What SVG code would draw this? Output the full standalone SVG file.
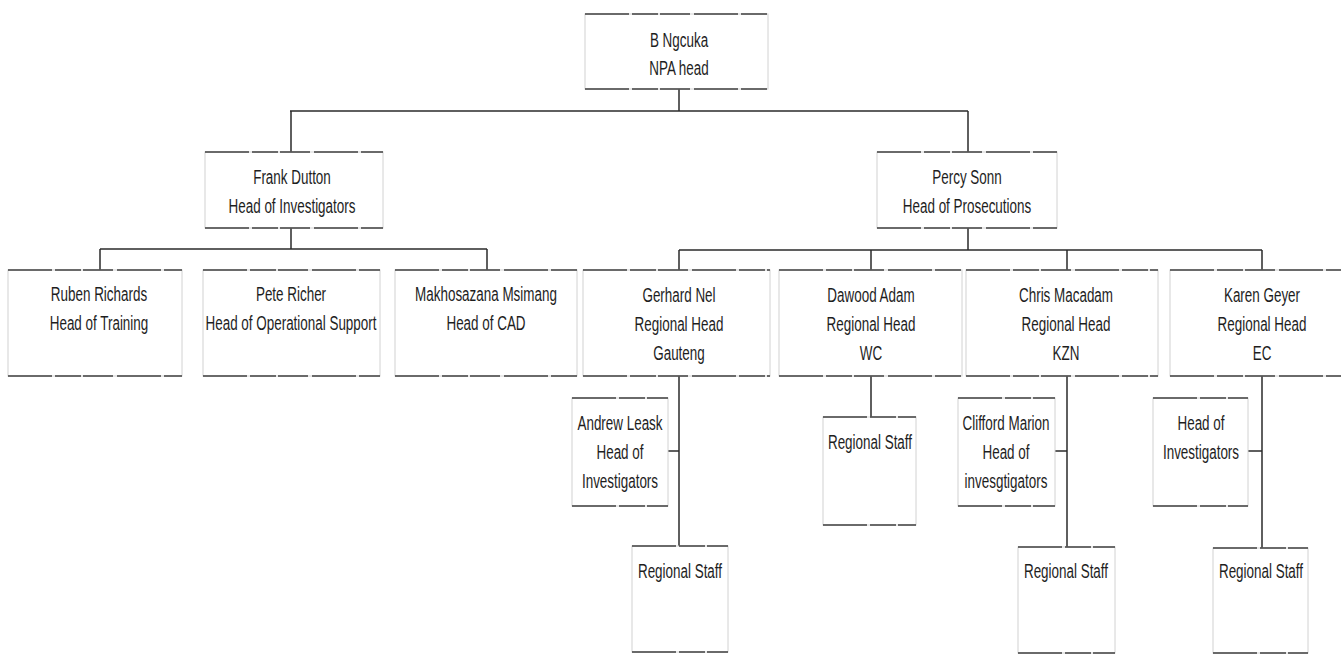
<svg xmlns="http://www.w3.org/2000/svg" width="1341" height="654" viewBox="0 0 1341 654">
<style>
.bg{fill:#ffffff}
.box{fill:#ffffff;stroke:#d2d2d2;stroke-width:1}
.edge{stroke:#404040;stroke-width:1.6;stroke-dasharray:44 3 26 2 30 4;fill:none}
.lbl{font-family:"Liberation Sans",Arial,sans-serif;font-size:21px;fill:#1e1e1e;text-anchor:middle}
.conn line{stroke:#2a2a2a;stroke-width:1.5}
</style>
<rect class="bg" x="0" y="0" width="1341" height="654"/>

<g id="connectors" class="conn">
  <line x1="679" y1="89" x2="679" y2="111"/>
  <line x1="290" y1="111" x2="968" y2="111"/>
  <line x1="291" y1="111" x2="291" y2="152"/>
  <line x1="968" y1="111" x2="968" y2="152"/>
  <line x1="291" y1="228" x2="291" y2="249"/>
  <line x1="100" y1="249" x2="487" y2="249"/>
  <line x1="100" y1="249" x2="100" y2="270"/>
  <line x1="487" y1="249" x2="487" y2="270"/>
  <line x1="968" y1="228" x2="968" y2="250"/>
  <line x1="679" y1="250" x2="1262" y2="250"/>
  <line x1="679" y1="250" x2="679" y2="270"/>
  <line x1="871" y1="250" x2="871" y2="270"/>
  <line x1="1067" y1="250" x2="1067" y2="270"/>
  <line x1="1262" y1="250" x2="1262" y2="270"/>
  <line x1="679" y1="376" x2="679" y2="546"/>
  <line x1="668" y1="451" x2="679" y2="451"/>
  <line x1="871" y1="376" x2="871" y2="417"/>
  <line x1="1067" y1="376" x2="1067" y2="547"/>
  <line x1="1055" y1="451" x2="1067" y2="451"/>
  <line x1="1262" y1="376" x2="1262" y2="548"/>
  <line x1="1248" y1="451" x2="1262" y2="451"/>
</g>

<g id="ngcuka">
  <rect class="box" x="585" y="14" width="183" height="75"/>
  <line class="edge" x1="585" y1="14" x2="768" y2="14"/>
  <line class="edge" x1="585" y1="89" x2="768" y2="89"/>
  <text class="lbl" transform="translate(679,47) scale(0.64,1)"><tspan x="0">B Ngcuka</tspan><tspan x="0" dy="28">NPA head</tspan></text>
</g>

<g id="dutton">
  <rect class="box" x="205" y="152" width="178" height="76"/>
  <line class="edge" x1="205" y1="152" x2="383" y2="152"/>
  <line class="edge" x1="205" y1="228" x2="383" y2="228"/>
  <text class="lbl" transform="translate(292,184) scale(0.64,1)"><tspan x="0">Frank Dutton</tspan><tspan x="0" dy="29">Head of Investigators</tspan></text>
</g>

<g id="sonn">
  <rect class="box" x="877" y="152" width="180" height="76"/>
  <line class="edge" x1="877" y1="152" x2="1057" y2="152"/>
  <line class="edge" x1="877" y1="228" x2="1057" y2="228"/>
  <text class="lbl" transform="translate(967,184) scale(0.64,1)"><tspan x="0">Percy Sonn</tspan><tspan x="0" dy="29">Head of Prosecutions</tspan></text>
</g>

<g id="richards">
  <rect class="box" x="8" y="270" width="174" height="106"/>
  <line class="edge" x1="8" y1="270" x2="182" y2="270"/>
  <line class="edge" x1="8" y1="376" x2="182" y2="376"/>
  <text class="lbl" transform="translate(99,301) scale(0.64,1)"><tspan x="0">Ruben Richards</tspan><tspan x="0" dy="29">Head of Training</tspan></text>
</g>

<g id="richer">
  <rect class="box" x="203" y="270" width="177" height="106"/>
  <line class="edge" x1="203" y1="270" x2="380" y2="270"/>
  <line class="edge" x1="203" y1="376" x2="380" y2="376"/>
  <text class="lbl" transform="translate(291,301) scale(0.64,1)"><tspan x="0">Pete Richer</tspan><tspan x="0" dy="29">Head of Operational Support</tspan></text>
</g>

<g id="msimang">
  <rect class="box" x="395" y="270" width="182" height="106"/>
  <line class="edge" x1="395" y1="270" x2="577" y2="270"/>
  <line class="edge" x1="395" y1="376" x2="577" y2="376"/>
  <text class="lbl" transform="translate(486,301) scale(0.64,1)"><tspan x="0">Makhosazana Msimang</tspan><tspan x="0" dy="29">Head of CAD</tspan></text>
</g>

<g id="nel">
  <rect class="box" x="583" y="270" width="187" height="106"/>
  <line class="edge" x1="583" y1="270" x2="770" y2="270"/>
  <line class="edge" x1="583" y1="376" x2="770" y2="376"/>
  <text class="lbl" transform="translate(679,302) scale(0.64,1)"><tspan x="0">Gerhard Nel</tspan><tspan x="0" dy="29">Regional Head</tspan><tspan x="0" dy="29">Gauteng</tspan></text>
</g>

<g id="adam">
  <rect class="box" x="779" y="270" width="183" height="106"/>
  <line class="edge" x1="779" y1="270" x2="962" y2="270"/>
  <line class="edge" x1="779" y1="376" x2="962" y2="376"/>
  <text class="lbl" transform="translate(871,302) scale(0.64,1)"><tspan x="0">Dawood Adam</tspan><tspan x="0" dy="29">Regional Head</tspan><tspan x="0" dy="29">WC</tspan></text>
</g>

<g id="macadam">
  <rect class="box" x="966" y="270" width="192" height="106"/>
  <line class="edge" x1="966" y1="270" x2="1158" y2="270"/>
  <line class="edge" x1="966" y1="376" x2="1158" y2="376"/>
  <text class="lbl" transform="translate(1066,302) scale(0.64,1)"><tspan x="0">Chris Macadam</tspan><tspan x="0" dy="29">Regional Head</tspan><tspan x="0" dy="29">KZN</tspan></text>
</g>

<g id="geyer">
  <rect class="box" x="1170" y="270" width="190" height="106"/>
  <line class="edge" x1="1170" y1="270" x2="1341" y2="270"/>
  <line class="edge" x1="1170" y1="376" x2="1341" y2="376"/>
  <text class="lbl" transform="translate(1262,302) scale(0.64,1)"><tspan x="0">Karen Geyer</tspan><tspan x="0" dy="29">Regional Head</tspan><tspan x="0" dy="29">EC</tspan></text>
</g>

<g id="leask">
  <rect class="box" x="572" y="398" width="96" height="108"/>
  <line class="edge" x1="572" y1="398" x2="668" y2="398"/>
  <line class="edge" x1="572" y1="506" x2="668" y2="506"/>
  <text class="lbl" transform="translate(620,430) scale(0.64,1)"><tspan x="0">Andrew Leask</tspan><tspan x="0" dy="29">Head of</tspan><tspan x="0" dy="29">Investigators</tspan></text>
</g>

<g id="staff-gauteng">
  <rect class="box" x="632" y="546" width="96" height="106"/>
  <line class="edge" x1="632" y1="546" x2="728" y2="546"/>
  <line class="edge" x1="632" y1="652" x2="728" y2="652"/>
  <text class="lbl" transform="translate(680,578) scale(0.64,1)">Regional Staff</text>
</g>

<g id="staff-wc">
  <rect class="box" x="823" y="417" width="93" height="108"/>
  <line class="edge" x1="823" y1="417" x2="916" y2="417"/>
  <line class="edge" x1="823" y1="525" x2="916" y2="525"/>
  <text class="lbl" transform="translate(870,449) scale(0.64,1)">Regional Staff</text>
</g>

<g id="marion">
  <rect class="box" x="958" y="398" width="97" height="108"/>
  <line class="edge" x1="958" y1="398" x2="1055" y2="398"/>
  <line class="edge" x1="958" y1="506" x2="1055" y2="506"/>
  <text class="lbl" transform="translate(1006,430) scale(0.64,1)"><tspan x="0">Clifford Marion</tspan><tspan x="0" dy="29">Head of</tspan><tspan x="0" dy="29">invesgtigators</tspan></text>
</g>

<g id="staff-kzn">
  <rect class="box" x="1018" y="547" width="97" height="106"/>
  <line class="edge" x1="1018" y1="547" x2="1115" y2="547"/>
  <line class="edge" x1="1018" y1="653" x2="1115" y2="653"/>
  <text class="lbl" transform="translate(1066,578) scale(0.64,1)">Regional Staff</text>
</g>

<g id="investigators-ec">
  <rect class="box" x="1153" y="398" width="95" height="108"/>
  <line class="edge" x1="1153" y1="398" x2="1248" y2="398"/>
  <line class="edge" x1="1153" y1="506" x2="1248" y2="506"/>
  <text class="lbl" transform="translate(1201,430) scale(0.64,1)"><tspan x="0">Head of</tspan><tspan x="0" dy="29">Investigators</tspan></text>
</g>

<g id="staff-ec">
  <rect class="box" x="1213" y="548" width="95" height="105"/>
  <line class="edge" x1="1213" y1="548" x2="1308" y2="548"/>
  <line class="edge" x1="1213" y1="653" x2="1308" y2="653"/>
  <text class="lbl" transform="translate(1261,578) scale(0.64,1)">Regional Staff</text>
</g>
</svg>
